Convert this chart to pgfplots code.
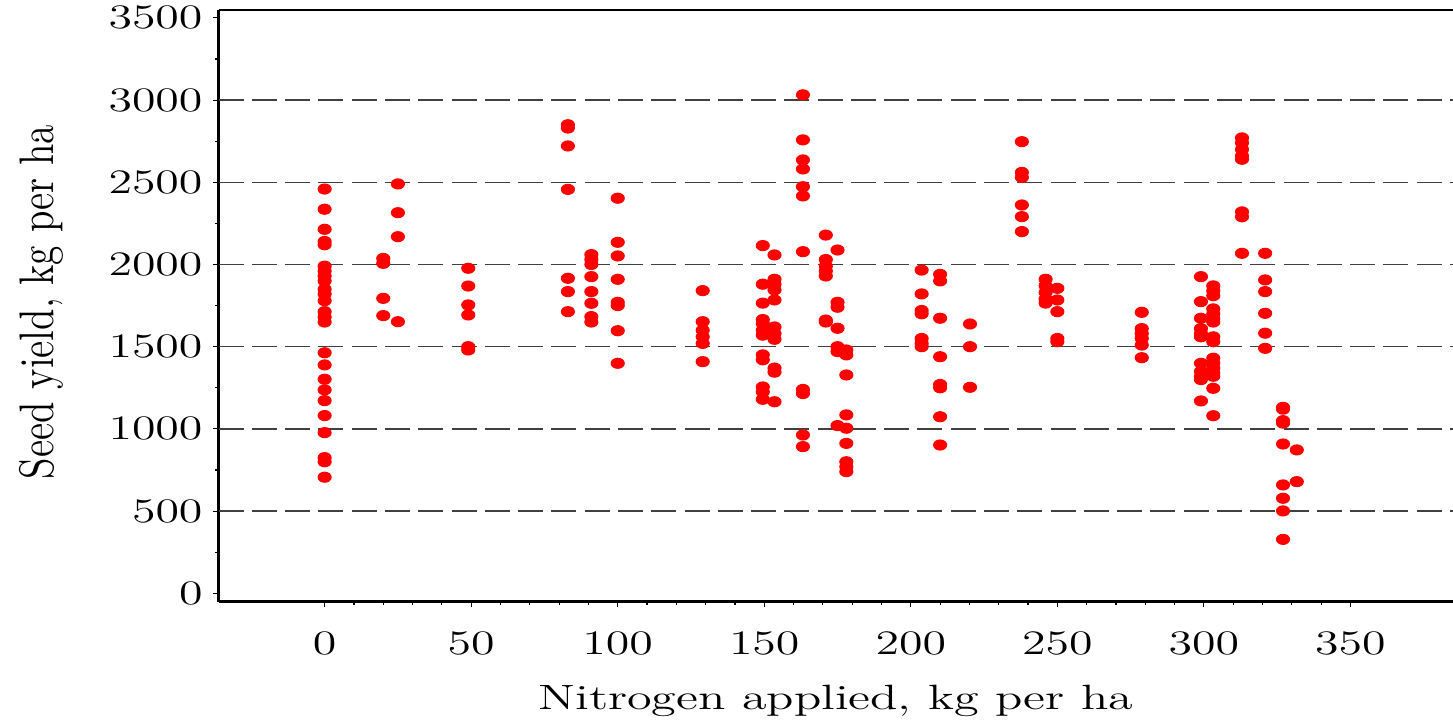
\documentclass[border=0pt]{standalone}
\usepackage{pgfplots}
\usepackage{pgfplotstable}
\usepackage{graphicx}
\pgfplotsset{compat=1.18}

% the reference is stretched sideways, so horizontal text is widened
\newcommand{\wide}[1]{\scalebox{1.4}[1]{#1}}

\pgfplotstableread{
x y
0 2459
0 2336
0 2214
0 2140
0 2120
0 1990
0 1960
0 1930
0 1900
0 1850
0 1820
0 1780
0 1713
0 1680
0 1650
0 1463
0 1389
0 1302
0 1237
0 1172
0 1081
0 977
0 825
0 800
0 706
20 2037
20 2007
20 1794
20 1689
25 2490
25 2315
25 2169
25 1652
49 1977
49 1869
49 1754
49 1693
49 1500
49 1480
83 2850
83 2830
83 2721
83 2457
83 1916
83 1835
83 1713
91 2060
91 2030
91 2000
91 1926
91 1835
91 1764
91 1683
91 1650
100 2403
100 2135
100 2052
100 1910
100 1770
100 1750
100 1597
100 1399
129 1841
129 1652
129 1600
129 1560
129 1520
129 1409
149.5 2115
149.5 1880
149.5 1765
149.5 1665
149.5 1640
149.5 1600
149.5 1570
149.5 1450
149.5 1420
149.5 1255
149.5 1225
149.5 1180
153.5 2058
153.5 1910
153.5 1880
153.5 1845
153.5 1784
153.5 1620
153.5 1580
153.5 1545
153.5 1370
153.5 1345
153.5 1165
163.2 3032
163.2 2758
163.2 2636
163.2 2581
163.2 2473
163.2 2417
163.2 2078
163.2 1240
163.2 1215
163.2 963
163.2 892
171 2179
171 2030
171 1990
171 1960
171 1930
171 1662
171 1650
175 2088
175 1770
175 1740
175 1612
175 1500
175 1470
175 1020
178 1480
178 1450
178 1328
178 1085
178 1004
178 912
178 800
178 770
178 740
203.7 1966
203.7 1821
203.7 1720
203.7 1700
203.7 1550
203.7 1520
203.7 1500
210 1940
210 1900
210 1673
210 1439
210 1270
210 1250
210 1074
210 902
220.2 1638
220.2 1500
220.2 1253
237.9 2747
237.9 2560
237.9 2530
237.9 2362
237.9 2291
237.9 2200
246 1910
246 1870
246 1830
246 1790
246 1765
250 1855
250 1784
250 1713
250 1550
250 1530
278.8 1709
278.8 1610
278.8 1580
278.8 1550
278.8 1510
278.8 1433
299 1926
299 1774
299 1673
299 1610
299 1580
299 1560
299 1399
299 1350
299 1320
299 1300
299 1170
303.2 1870
303.2 1840
303.2 1810
303.2 1730
303.2 1700
303.2 1670
303.2 1650
303.2 1560
303.2 1530
303.2 1430
303.2 1400
303.2 1370
303.2 1340
303.2 1320
303.2 1247
303.2 1080
313 2770
313 2740
313 2700
313 2660
313 2640
313 2320
313 2290
313 2068
320.9 2068
320.9 1906
320.9 1835
320.9 1703
320.9 1582
320.9 1490
327 1131
327 1120
327 1050
327 1035
327 908
327 659
327 578
327 501
327 328
331.7 872
331.7 679
}\seeds

\begin{document}
\begin{tikzpicture}
\begin{axis}[
    scale only axis,
    width=432.1pt, height=207.1pt,
    xmin=-36.2, xmax=385, ymin=-51, ymax=3548,
    axis x line=box, axis y line=left,
    axis line style={-, line width=1pt},
    xtick={0,50,...,350}, ytick={0,500,...,3500},
    minor x tick num=4, minor y tick num=1,
    xtick pos=bottom, ytick pos=left,
    tick align=outside,
    major tick length=2pt, minor tick length=1.1pt,
    tick style={black, line width=0.4pt},
    /pgf/number format/1000 sep={},
    tick label style={font=\fontsize{12.3}{14}\selectfont, inner sep=0pt},
    xticklabel={\wide{\pgfmathprintnumber{\tick}}},
    yticklabel={\wide{\pgfmathprintnumber{\tick}}},
    xticklabel style={yshift=-8.5pt},
    yticklabel style={xshift=-3.4pt},
    xlabel={\scalebox{1.43}[1]{Nitrogen applied, kg per ha}},
    ylabel={\scalebox{1.12}[1.38]{Seed yield, kg per ha}},
    label style={font=\fontsize{12.3}{14}\selectfont},
    xlabel style={at={(axis description cs:0.5,-0.1816)}, anchor=base},
    ylabel style={at={(axis description cs:-0.134,0.5065)}, anchor=base},
  ]
  \pgfplotsinvokeforeach{500,1000,...,3000}{
    \draw[black!75, line width=0.45pt, dash pattern=on 8.75pt off 2.9pt]
      (axis cs:-36.2,#1) -- (axis cs:385,#1);
  }
  \addplot [only marks, mark=*, mark size=1.75pt, color=red,
            mark options={xscale=1.3, draw=red, fill=red}] table[x=x, y=y] {\seeds};
  \coordinate (sw) at (rel axis cs:0,0);
  \coordinate (ne) at (rel axis cs:1,1);
\end{axis}
\pgfresetboundingbox
\path ([shift={(-76.5pt,-41.75pt)}]sw) rectangle ([shift={(0pt,3.5pt)}]ne);
\end{tikzpicture}
\end{document}
